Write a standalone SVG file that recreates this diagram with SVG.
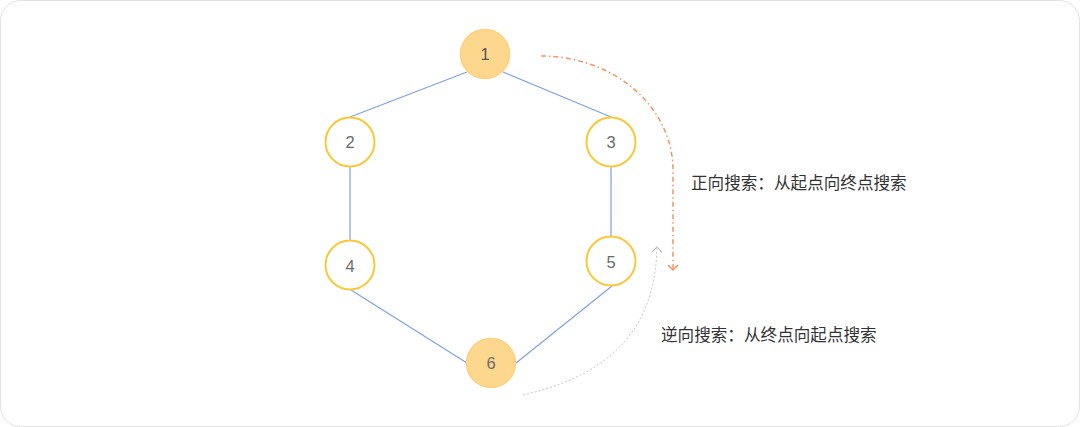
<svg xmlns="http://www.w3.org/2000/svg" width="1080" height="427" viewBox="0 0 1080 427">
<style>
.node-o{fill:#ffffff;stroke:#fbc83a;stroke-width:2}
.node-f{fill:#fdd78e;stroke:#fdd27c;stroke-width:1.5}
.num{font-family:"Liberation Sans",Arial,sans-serif;font-size:16.5px;fill:#6b6b6b;text-anchor:middle;dominant-baseline:central}
.edge{stroke:#7fa2e0;stroke-width:1.2;fill:none}
.lbl{font-family:"Noto Sans CJK SC","Noto Sans",sans-serif;font-size:16.6px;fill:#333}
</style>
<defs>
<marker id="arrO" markerWidth="12" markerHeight="12" refX="6" refY="6" orient="auto" markerUnits="userSpaceOnUse">
<path d="M1,1 L6,6 L1,11" fill="none" stroke="#f29560" stroke-width="1.5"/>
</marker>
<marker id="arrG" markerWidth="12" markerHeight="12" refX="6" refY="6" orient="auto" markerUnits="userSpaceOnUse">
<path d="M1,1 L6,6 L1,11" fill="none" stroke="#c4c4c4" stroke-width="1.2"/>
</marker>
</defs>
<rect x="0.5" y="0.5" width="1079" height="426" rx="20" ry="20" fill="#ffffff" stroke="#e2e2e2" stroke-width="1"/>
<g id="connectors">
<line class="edge" x1="467" y1="72" x2="350" y2="117"/>
<line class="edge" x1="503" y1="72" x2="611" y2="117"/>
<line class="edge" x1="350" y1="167" x2="350" y2="240"/>
<line class="edge" x1="611" y1="167" x2="611" y2="236"/>
<line class="edge" x1="351" y1="290" x2="467" y2="363"/>
<line class="edge" x1="612" y1="286" x2="516" y2="363"/>
<path d="M541,56 A132,114 0 0 1 673,170 L673,270" fill="none" stroke="#f29560" stroke-width="1.5" stroke-dasharray="5,3,1.5,3" marker-end="url(#arrO)"/>
<path d="M523,395 C610,375 655,330 657,247" fill="none" stroke="#c8c8c8" stroke-width="1" stroke-dasharray="2,2" marker-end="url(#arrG)"/>
</g>
<g id="node1"><circle class="node-f" cx="485" cy="54" r="24.5"/><text class="num" x="485" y="54" style="fill:#555">1</text></g>
<g id="node2"><circle class="node-o" cx="350" cy="142" r="24.5"/><text class="num" x="350" y="142">2</text></g>
<g id="node3"><circle class="node-o" cx="611" cy="142" r="24.5"/><text class="num" x="611" y="142">3</text></g>
<g id="node4"><circle class="node-o" cx="350" cy="265" r="24.5"/><text class="num" x="350" y="266">4</text></g>
<g id="node5"><circle class="node-o" cx="611" cy="261" r="24.5"/><text class="num" x="611" y="262">5</text></g>
<g id="node6"><circle class="node-f" cx="491" cy="363" r="24.5"/><text class="num" x="491" y="363">6</text></g>
<g id="labels">
<text class="lbl" x="691" y="189">正向搜索：从起点向终点搜索</text>
<text class="lbl" x="661" y="341">逆向搜索：从终点向起点搜索</text>
</g>
</svg>
